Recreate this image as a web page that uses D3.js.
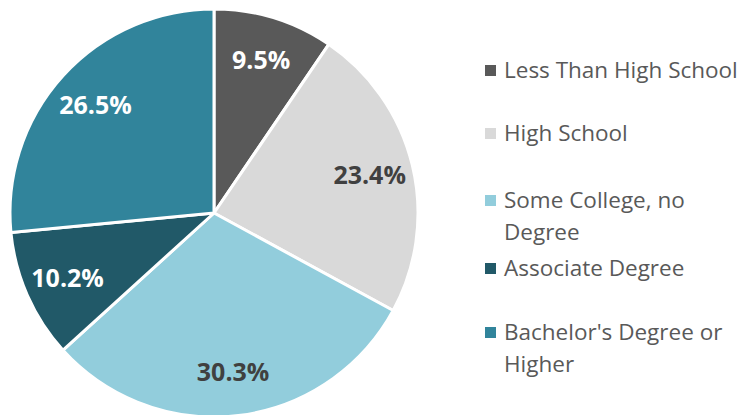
<!DOCTYPE html>
<html>
<head>
<meta charset="utf-8">
<script src="https://cdn.jsdelivr.net/npm/d3@7"></script>
<style>
  body { margin: 0; background: #fff; }
  text { font-family: "Open Sans", "Noto Sans", sans-serif; }
</style>
</head>
<body>
<svg width="745" height="415"></svg>
<script>
// data
var categories = ["Less Than High School", "High School", "Some College, no Degree", "Associate Degree", "Bachelor's Degree or Higher"];
var values = [9.5, 23.4, 30.3, 10.2, 26.5];
var legendLines = [["Less Than High School"], ["High School"], ["Some College, no", "Degree"], ["Associate Degree"], ["Bachelor's Degree or", "Higher"]];
var colors = ["#595959", "#d9d9d9", "#92cddc", "#215968", "#31849b"];
var labelColors = ["#ffffff", "#404040", "#404040", "#ffffff", "#ffffff"];

var pieData = categories.map(function(c, i) {
  return { name: c, value: values[i], idx: i };
});

var svg = d3.select("svg"),
    radius = 204,
    g = svg.append("g").attr("transform", "translate(214,213)");

var color = d3.scaleOrdinal().domain(categories).range(colors);

var pie = d3.pie().sort(null).value(function(d) { return d.value; });
var arc = d3.arc().innerRadius(0).outerRadius(radius);
var label = d3.arc().innerRadius(radius * 0.785).outerRadius(radius * 0.785);

var arcs = g.selectAll(".arc")
  .data(pie(pieData))
  .enter()
  .append("g")
  .attr("class", "arc");

arcs.append("path")
  .attr("d", arc)
  .attr("fill", function(d) { return color(d.data.name); })
  .attr("stroke", "#fff")
  .attr("stroke-width", 3)
  .attr("stroke-linejoin", "round");

arcs.append("text")
  .attr("transform", function(d) { return "translate(" + label.centroid(d) + ")"; })
  .attr("text-anchor", "middle")
  .attr("dy", "0.35em")
  .attr("font-size", 25)
  .attr("font-weight", "bold")
  .attr("fill", function(d) { return labelColors[d.data.idx]; })
  .text(function(d) { return d.data.value.toFixed(1) + "%"; });

// legend
var legendY = [70, 133, 200, 268, 332];
var legend = svg.append("g").attr("transform", "translate(485,0)");
var items = legend.selectAll(".item")
  .data(categories)
  .enter()
  .append("g")
  .attr("class", "item")
  .attr("transform", function(d, i) { return "translate(0," + legendY[i] + ")"; });

items.append("rect")
  .attr("x", 0).attr("y", -5)
  .attr("width", 11).attr("height", 11)
  .attr("fill", function(d) { return color(d); });

items.each(function(d, i) {
  var t = d3.select(this).append("text")
    .attr("x", 19)
    .attr("font-size", 22.5)
    .attr("fill", "#595959");
  legendLines[i].forEach(function(line, j) {
    t.append("tspan").attr("x", 19).attr("y", j * 32).attr("dy", "0.35em").text(line);
  });
});
</script>
</body>
</html>
